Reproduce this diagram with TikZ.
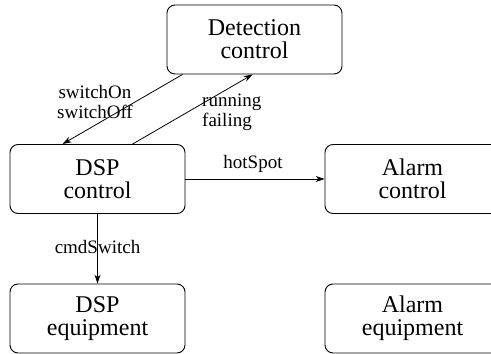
\documentclass[tikz,border=0pt]{standalone}
\usepackage{fontspec}
\setmainfont{Liberation Serif}
\usetikzlibrary{arrows.meta}
\begin{document}
\begin{tikzpicture}[x=1pt,y=1pt,
  comp/.style={draw,line width=0.9pt,rounded corners=8pt,minimum width=175pt,minimum height=69pt,align=center,inner sep=0pt,font=\fontsize{24}{23}\selectfont},
  lbl/.style={align=center,inner sep=0pt,font=\fontsize{19}{20}\selectfont},
  conn/.style={line width=0.8pt,-{Stealth[length=9pt,width=6pt]}}]
\useasboundingbox (0,0) rectangle (491,354);
\node[comp] (det) at (254.5,314.5) {Detection\\control};
\node[comp] (dspc) at (97.5,175) {DSP\\control};
\node[comp] (alc) at (412.5,175) {Alarm\\control};
\node[comp] (dspe) at (97.5,35.5) {DSP\\equipment};
\node[comp] (ale) at (412.5,35.5) {Alarm\\equipment};
\draw[conn] ([xshift=16pt]det.south west) -- ([xshift=53pt]dspc.north west);
\draw[conn] ([xshift=123pt]dspc.north west) -- ([xshift=86pt]det.south west);
\draw[conn] (dspc.east) -- (alc.west);
\draw[conn] (dspc.south) -- (dspe.north);
\node[lbl] (l1) at (95,252) {switchOn\\switchOff};
\node[lbl,align=left,anchor=west] (l2) at (202,242) {running\\failing};
\node[lbl] (l3) at (253,190) {hotSpot};
\node[lbl] (l4) at (97.5,106.5) {cmdSwitch};
\end{tikzpicture}
\end{document}
